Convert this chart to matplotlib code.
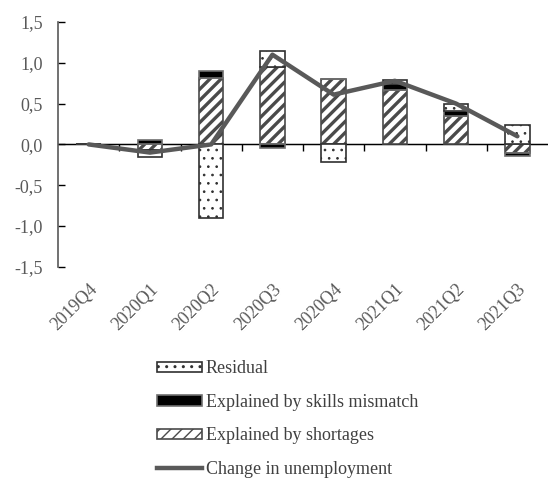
import numpy as np
import matplotlib.pyplot as plt
from matplotlib.patches import Patch
from matplotlib.lines import Line2D

plt.rcParams['font.family'] = ['Liberation Serif', 'DejaVu Serif']
plt.rcParams['text.color'] = '#595959'

quarters = ['2019Q4', '2020Q1', '2020Q2', '2020Q3', '2020Q4', '2021Q1', '2021Q2', '2021Q3']
shortages = [0.0, -0.07, 0.82, 0.95, 0.80, 0.67, 0.35, -0.11]
skills = [0.0, 0.05, 0.08, -0.05, 0.0, 0.07, 0.06, -0.03]
residual = [0.0, -0.08, -0.90, 0.19, -0.21, 0.05, 0.09, 0.24]
unemployment = [0.0, -0.10, 0.0, 1.10, 0.61, 0.78, 0.50, 0.10]

fig = plt.figure(figsize=(5.48, 4.79), dpi=100)
ax = fig.add_axes([0.106, 0.443, 0.894, 0.511])

x = np.arange(len(quarters))
w = 0.4
edge = '#6f6f6f'
stripe = dict(facecolor='white', edgecolor='#4a4a4a', hatch='///')
solid = dict(facecolor='black', edgecolor=edge)
dots = dict(facecolor='white', edgecolor='#303030', hatch='..')
hatch_lw = {'///': 2.4, '..': 0.7}


def set_hatch_lw(patches, style):
    lw = hatch_lw.get(style.get('hatch'), 1.0)
    for p in patches:
        if hasattr(p, 'set_hatch_linewidth'):
            p.set_hatch_linewidth(lw)


pos_base = np.zeros(len(x))
neg_base = np.zeros(len(x))
for vals, style in [(shortages, stripe), (skills, solid), (residual, dots)]:
    vals = np.array(vals)
    base = np.where(vals >= 0, pos_base, neg_base)
    with plt.rc_context({'hatch.linewidth': hatch_lw.get(style.get('hatch'), 1.0)}):
        bars = ax.bar(x, vals, w, bottom=base, linewidth=1.2, zorder=2, **style)
    set_hatch_lw(bars, style)
    pos_base = pos_base + np.clip(vals, 0, None)
    neg_base = neg_base + np.clip(vals, None, 0)

ax.plot(x, unemployment, color='#595959', lw=3.2, solid_capstyle='round',
        solid_joinstyle='round', zorder=3)

ax.set_xlim(-0.5, len(x) - 0.5)
ax.set_ylim(-1.5, 1.5)
yt = np.arange(-1.5, 1.51, 0.5)
ax.set_yticks(yt)
ax.set_yticklabels([f'{v:.1f}'.replace('.', ',') for v in yt], fontsize=13)
ax.tick_params(axis='y', direction='in', length=5, width=1, pad=11,
               labelcolor='#595959', color='black')

ax.set_xticks(x)
ax.set_xticklabels(quarters, rotation=45, ha='right', va='top',
                   rotation_mode='anchor', fontsize=13)
ax.tick_params(axis='x', length=0, pad=10, labelcolor='#595959')

for s in ['top', 'right', 'bottom']:
    ax.spines[s].set_visible(False)
ax.spines['left'].set_color('#595959')
ax.spines['left'].set_linewidth(1.2)

ax.axhline(0, color='black', lw=1, zorder=1)
zero_axis = ax.secondary_xaxis(0.5)
zero_axis.set_xticks(x[:-1] + 0.5)
zero_axis.set_xticklabels([])
zero_axis.tick_params(direction='in', length=5, width=1)
zero_axis.spines['bottom'].set_visible(False)

handles = [
    Patch(linewidth=1.2, **dots),
    Patch(linewidth=1.2, **solid),
    Patch(linewidth=1.2, **stripe),
    Line2D([0], [0], color='#595959', lw=3.2),
]
set_hatch_lw(handles[:1], dots)
set_hatch_lw(handles[2:3], stripe)
labels = ['Residual', 'Explained by skills mismatch', 'Explained by shortages',
          'Change in unemployment']
fig.legend(handles, labels, loc='upper left', bbox_to_anchor=(150 / 548, 1 - 353 / 479),
           frameon=False, fontsize=13, handlelength=2.5, handleheight=0.5,
           handletextpad=0.2, labelspacing=0.92, borderaxespad=0,
           labelcolor='#404040')

fig.savefig('out.png', dpi=100)
